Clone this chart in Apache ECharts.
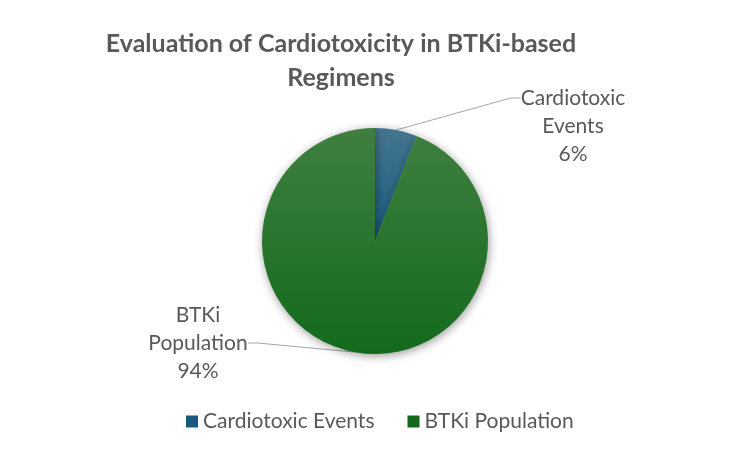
<!doctype html>
<html lang="en">
<head>
    <meta charset="UTF-8">
    <script src="https://cdn.jsdelivr.net/npm/echarts@6/dist/echarts.min.js"></script>
    <title>Evaluation of Cardiotoxicity</title>
    <style>
        html, body { margin: 0; padding: 0; background: #fff; }
    </style>
</head>
<body>
<div id="main" style="width: 750px; height: 451px"></div>
<script type="text/javascript">
    // 数据
    var categories = ["Cardiotoxic Events", "BTKi Population"];
    var values = [6, 94];
    var labelText = ["Cardiotoxic\nEvents", "BTKi\nPopulation"];
    var colors = [
        ["#44758f", "#195b7f"],
        ["#3f7f40", "#136a1c"]
    ];
    // 标签位置；第一个标签前加两行空行，让引线连到首行
    var labelPos = [[573, 98], [198, 343]];
    var labelPrefix = ["\n\n", ""];

    var mychart = echarts.init(document.getElementById("main"));
    var seriesData = categories.map(function (name, i) {
        return {
            name: name,
            value: values[i],
            itemStyle: {
                color: new echarts.graphic.LinearGradient(0, 0, 0, 1, [
                    {offset: 0, color: colors[i][0]},
                    {offset: 1, color: colors[i][1]}
                ])
            }
        };
    });

    var option = {
        backgroundColor: "#fff",
        textStyle: {fontFamily: "Lato"},
        title: {
            text: "Evaluation of Cardiotoxicity in BTKi-based\nRegimens",
            left: 336,
            top: 22,
            textAlign: "center",
            textStyle: {
                fontFamily: "Lato",
                fontWeight: "bold",
                fontSize: 25,
                color: "#595959",
                lineHeight: 34,
                align: "center"
            }
        },
        legend: {
            data: [
                {name: categories[0], itemStyle: {color: colors[0][1]}},
                {name: categories[1], itemStyle: {color: colors[1][1]}}
            ],
            top: 406,
            left: 181,
            itemWidth: 12,
            itemHeight: 12,
            itemGap: 33,
            icon: "rect",
            textStyle: {fontSize: 21, color: "#595959", fontFamily: "Lato"}
        },
        series: [{
            type: "pie",
            center: [375, 241],
            radius: 113,
            startAngle: 90,
            clockwise: true,
            data: seriesData,
            itemStyle: {
                shadowBlur: 10,
                shadowColor: "rgba(0,0,0,0.4)",
                shadowOffsetX: 1,
                shadowOffsetY: 2
            },
            label: {
                show: true,
                position: "outside",
                formatter: function (p) {
                    return labelPrefix[p.dataIndex] + labelText[p.dataIndex] + "\n" + Math.round(p.percent) + "%";
                },
                fontSize: 21,
                lineHeight: 28,
                color: "#595959",
                align: "center",
                fontFamily: "Lato"
            },
            labelLine: {
                show: true,
                length: 20,
                length2: 10,
                lineStyle: {color: "#a6a6a6", width: 1}
            },
            labelLayout: function (params) {
                var p = labelPos[params.dataIndex];
                return {x: p[0], y: p[1], align: "center", verticalAlign: "middle"};
            },
            emphasis: {disabled: true},
            animation: false
        }]
    };
    mychart.setOption(option);
</script>
</body>
</html>
